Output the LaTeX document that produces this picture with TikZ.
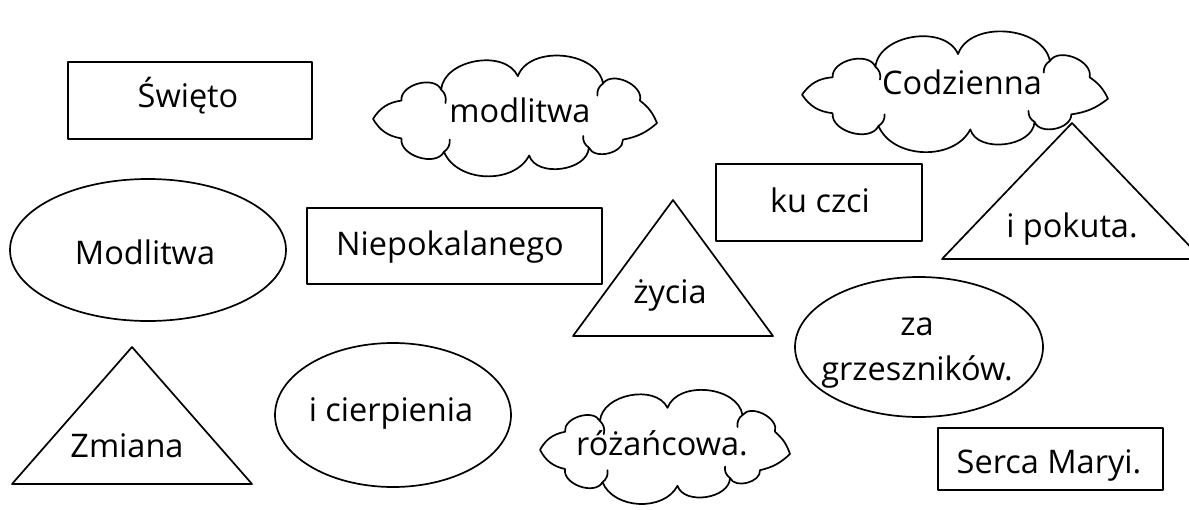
\documentclass[tikz,border=0pt]{standalone}
\usepackage{fontspec}
\setmainfont{Open Sans}
\usetikzlibrary{shapes.geometric}
% #1,#2 centre, #3 half width, #4 half height (pixel units)
\newcommand{\mycloud}[4]{%
\draw[cloudline] ({#1-1.00*#3},{#2+0.08*#4}) to[bend right=25] ({#1-0.80*#3},{#2+0.40*#4})
 to[bend right=80] ({#1-0.50*#3},{#2+0.62*#4})
 to[bend right=65] ({#1+0.10*#3},{#2+0.68*#4})
 to[bend right=80] ({#1+0.52*#3},{#2+0.55*#4})
 to[bend right=80] ({#1+0.76*#3},{#2+0.42*#4})
 to[bend right=15] ({#1+1.00*#3},{#2+0.15*#4})
 to[bend right=15] ({#1+0.88*#3},{#2-0.22*#4})
 to[bend right=80] ({#1+0.62*#3},{#2-0.50*#4})
 to[bend right=75] ({#1+0.02*#3},{#2-0.62*#4})
 to[bend right=75] ({#1-0.52*#3},{#2-0.40*#4})
 to[bend right=80] ({#1-0.80*#3},{#2-0.22*#4})
 to[bend right=25] ({#1-1.00*#3},{#2+0.08*#4}) -- cycle;
\draw[cloudline] ({#1-0.52*#3},{#2-0.40*#4}) to[bend left=30] ({#1-0.49*#3},{#2-0.18*#4})
 ({#1+0.62*#3},{#2-0.50*#4}) to[bend right=30] ({#1+0.58*#3},{#2-0.30*#4})
 ({#1-0.50*#3},{#2+0.62*#4}) to[bend right=30] ({#1-0.46*#3},{#2+0.42*#4})
 ({#1+0.52*#3},{#2+0.55*#4}) to[bend left=30] ({#1+0.48*#3},{#2+0.36*#4});}
\begin{document}
\begin{tikzpicture}[x=1pt,y=-1pt,line width=1.7pt,line join=round,line cap=round,
  lbl/.style={font=\fontsize{32.5}{38}\selectfont,anchor=base,inner sep=0pt},
  boxshape/.style={draw,rectangle,inner sep=0pt},
  ovalshape/.style={draw,ellipse,inner sep=0pt},
  cloudline/.style={draw,line width=1.7pt}]
\useasboundingbox (0,0) rectangle (1189,509);
\clip (0,0) rectangle (1189,509);
% rectangles
\node[boxshape,minimum width=244pt,minimum height=77pt] (rSw) at (190,100.5) {};
\node[boxshape,minimum width=295pt,minimum height=76pt] (rNi) at (454.5,246) {};
\node[boxshape,minimum width=206pt,minimum height=77pt] (rKu) at (819,202.5) {};
\node[boxshape,minimum width=225pt,minimum height=62pt] (rSe) at (1050.5,459) {};
% ellipses
\node[ovalshape,minimum width=276pt,minimum height=142pt] (eMo) at (148,250) {};
\node[ovalshape,minimum width=236pt,minimum height=144pt] (eCi) at (393,415) {};
\node[ovalshape,minimum width=248pt,minimum height=140pt] (eZa) at (919,347) {};
% triangles
\coordinate (zA) at (673,200); \coordinate (zB) at (773,336); \coordinate (zC) at (573,336);
\draw (zA) -- (zB) -- (zC) -- cycle;
\coordinate (mA) at (132,347); \coordinate (mB) at (252,484); \coordinate (mC) at (12,484);
\draw (mA) -- (mB) -- (mC) -- cycle;
\coordinate (pA) at (1072,123); \coordinate (pB) at (1202,259); \coordinate (pC) at (942,259);
\draw (pA) -- (pB) -- (pC) -- cycle;
% clouds
\mycloud{515}{114}{142}{61}
\mycloud{955}{90}{153}{58}
\mycloud{665}{445}{125}{60}
% texts
\node[lbl] (tSw) at (188,107) {Święto};
\node[lbl] (tmo) at (520,122) {modlitwa};
\node[lbl] (tCo) at (962,94) {Codzienna};
\node[lbl] (tKu) at (820,212) {ku czci};
\node[lbl] (tPo) at (1072,237) {i pokuta.};
\node[lbl] (tMo) at (145,264) {Modlitwa};
\node[lbl] (tNi) at (450,255) {Niepokalanego};
\node[lbl] (tZy) at (670,303) {życia};
\node[lbl] (tZa) at (917,335) {za};
\node[lbl] (tGr) at (917,380) {grzeszników.};
\node[lbl] (tZm) at (127,457) {Zmiana};
\node[lbl] (tCi) at (391,421) {i cierpienia};
\node[lbl] (tRo) at (662,455) {różańcowa.};
\node[lbl] (tSe) at (1049,473) {Serca Maryi.};
\end{tikzpicture}
\end{document}
